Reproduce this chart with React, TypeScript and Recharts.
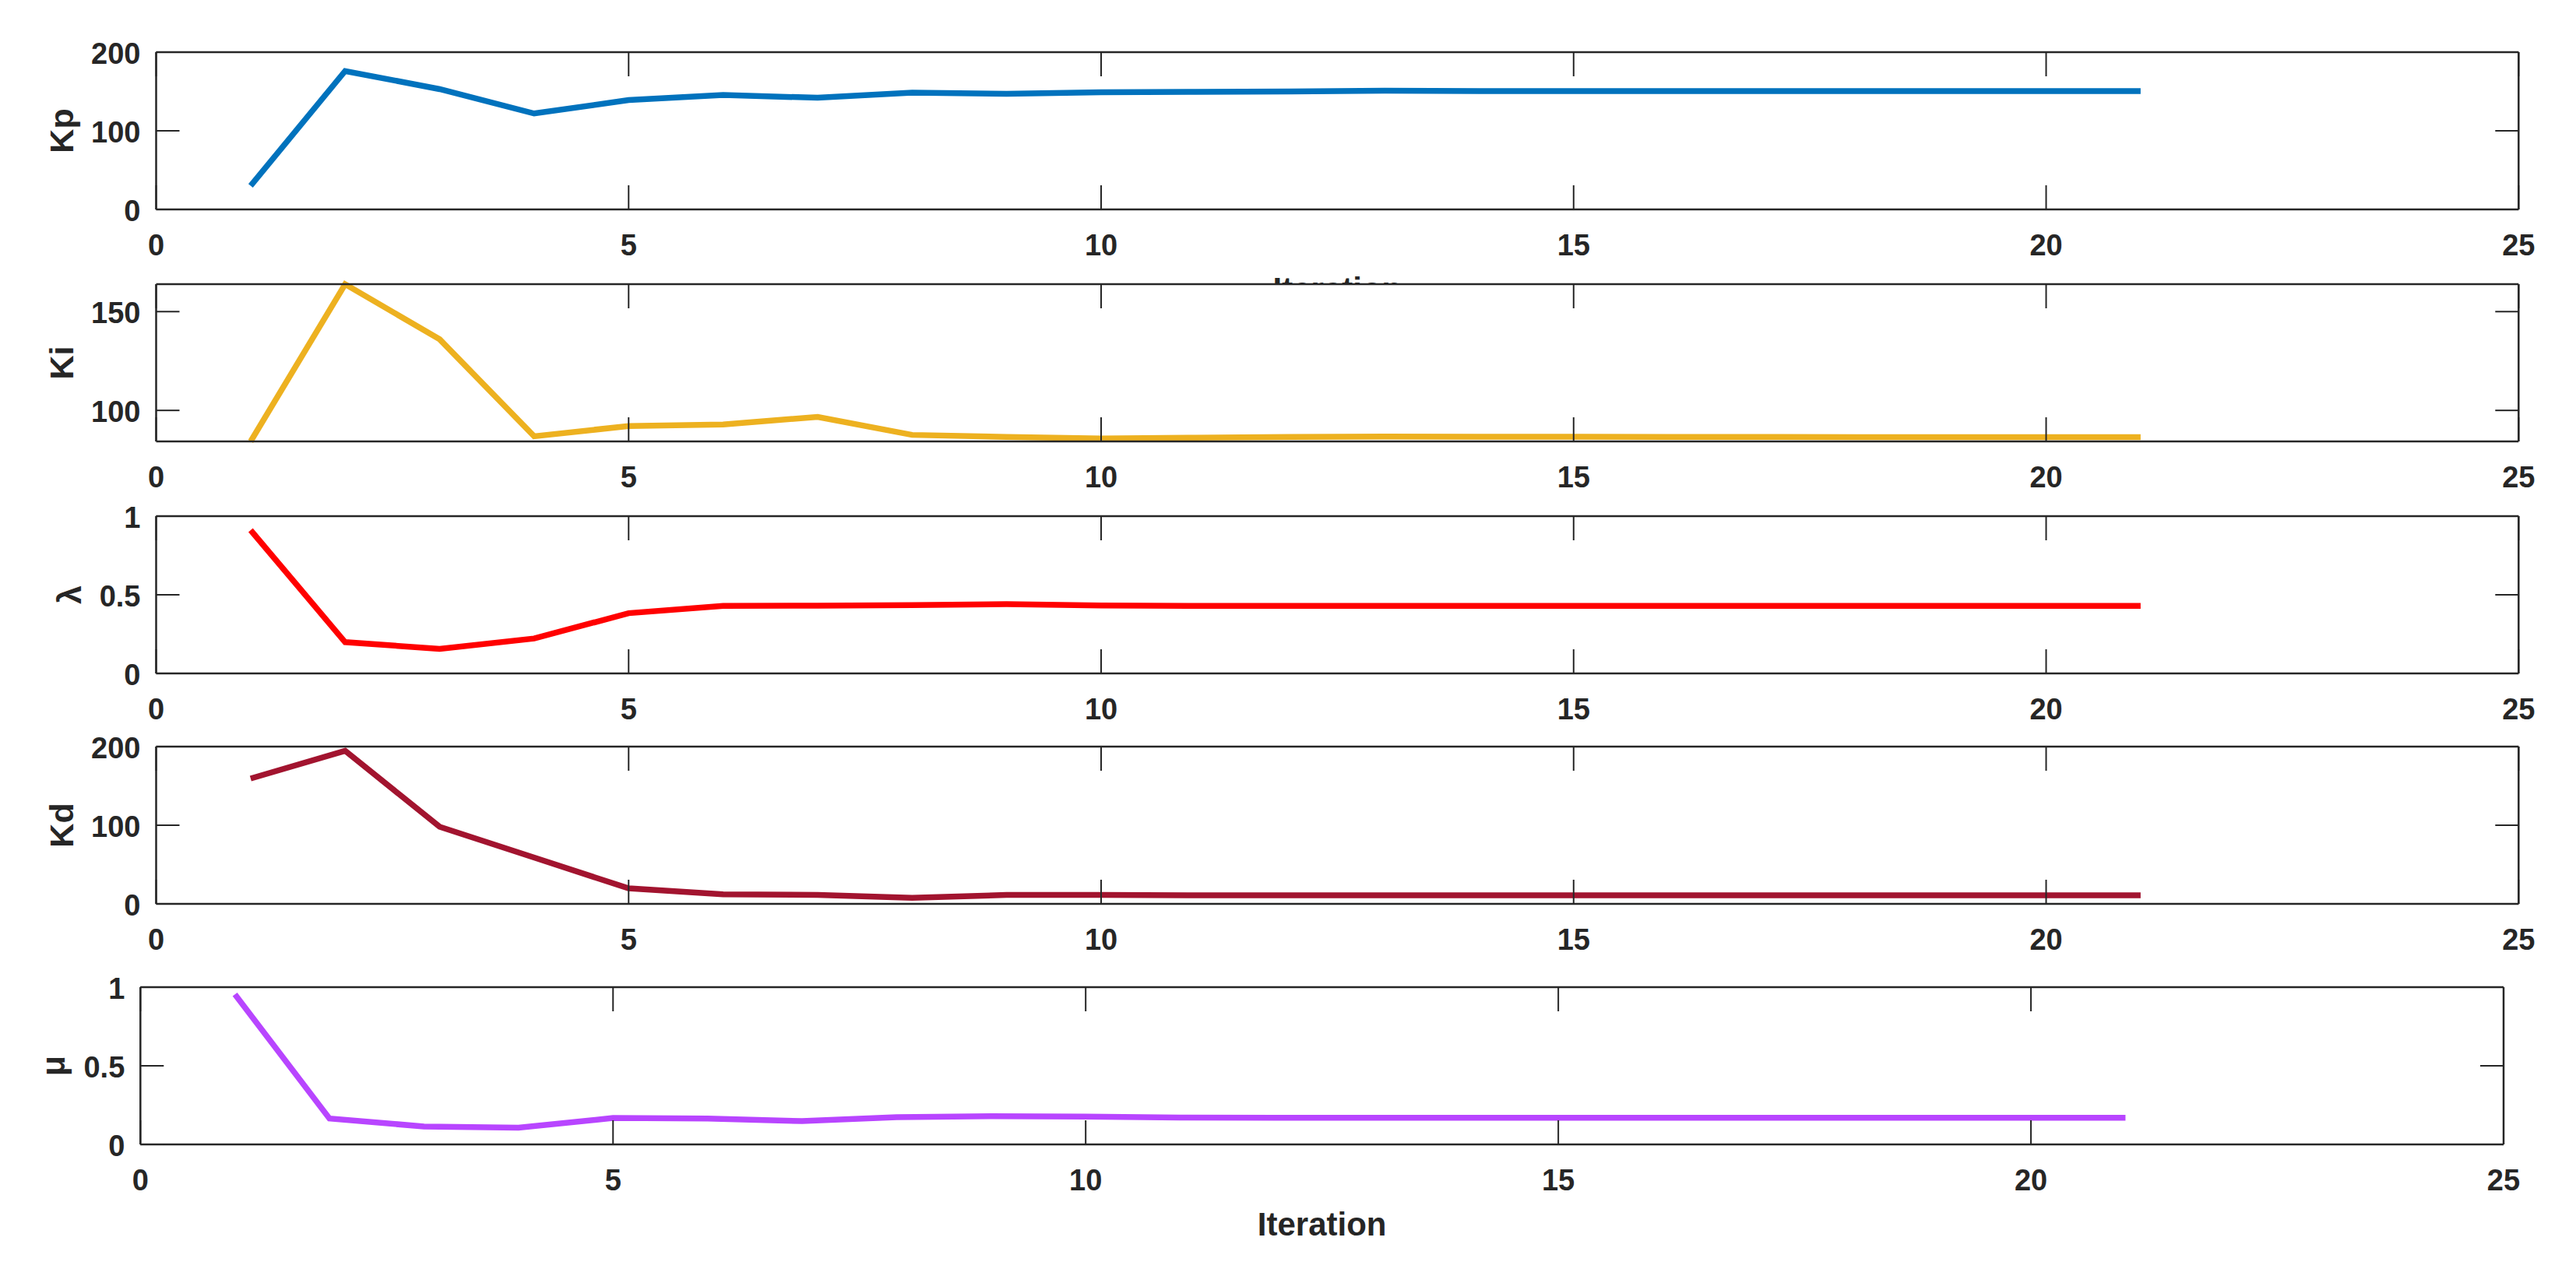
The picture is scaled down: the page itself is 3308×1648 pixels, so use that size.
import { LineChart, Line, XAxis, YAxis, CartesianGrid } from 'recharts';

// iteration index (x)
const iterations = [1, 2, 3, 4, 5, 6, 7, 8, 9, 10, 11, 12, 13, 14, 15, 16, 17, 18, 19, 20, 21];

// tuned gains per iteration
const kpValues = [30, 176, 153, 122, 139, 145.5, 142, 148.5, 147, 149, 149.5, 150, 151, 150.5, 150.5, 150.5, 150.5, 150.5, 150.5, 150.5, 150.5];
const kiValues = [84.3, 163.9, 136, 86.9, 92.1, 92.9, 96.7, 87.6, 86.6, 85.8, 86.2, 86.6, 86.8, 86.7, 86.7, 86.6, 86.6, 86.5, 86.5, 86.5, 86.5];
const lambdaValues = [0.911, 0.199, 0.156, 0.222, 0.383, 0.429, 0.431, 0.435, 0.44, 0.432, 0.429, 0.43, 0.43, 0.43, 0.43, 0.43, 0.43, 0.43, 0.43, 0.43, 0.43];
const kdValues = [159.4, 194.7, 98, 58.9, 19.7, 12.2, 11.4, 7.6, 11.4, 11.4, 10.8, 10.8, 11, 11, 11, 11, 11, 11, 11, 11, 11];
const muValues = [0.954, 0.165, 0.114, 0.106, 0.168, 0.165, 0.148, 0.173, 0.18, 0.177, 0.171, 0.17, 0.17, 0.17, 0.17, 0.17, 0.17, 0.17, 0.17, 0.17, 0.17];

const xTicks = [0, 5, 10, 15, 20, 25];
const kpTicks = [0, 100, 200];
const kiTicks = [100, 150];
const lambdaTicks = [0, 0.5, 1];
const kdTicks = [0, 100, 200];
const muTicks = [0, 0.5, 1];

const AXIS_COLOR = '#262626';
const FONT = '"Liberation Sans", Arial, Helvetica, sans-serif';
const PAGE_W = 3308;
const PAGE_H = 1648;
const PLOT_H = 202;
const PAD_TOP = 70;
const PAD_BOTTOM = 130;

const rows = iterations.map((it, i) => ({
  it,
  kp: kpValues[i],
  ki: kiValues[i],
  lambda: lambdaValues[i],
  kd: kdValues[i],
  mu: muValues[i],
}));

const series = [
  { key: 'kp', name: 'Kp', color: '#0072BD', ticks: kpTicks, domain: [0, 200] },
  { key: 'ki', name: 'Ki', color: '#EDB120', ticks: kiTicks, domain: [Math.min(...kiValues), Math.max(...kiValues)] },
  { key: 'lambda', name: 'λ', color: '#FF0000', ticks: lambdaTicks, domain: [0, 1] },
  { key: 'kd', name: 'Kd', color: '#A2142F', ticks: kdTicks, domain: [0, 200] },
  { key: 'mu', name: 'μ', color: '#B845FF', ticks: muTicks, domain: [0, 1] },
];

// subplot boxes in page pixels
const layout = [
  { top: 67.3, left: 200.5, right: 3234.3, labelGap: 107, xLabel: true },
  { top: 365.4, left: 200.5, right: 3234.3, labelGap: 107, xLabel: false },
  { top: 663.0, left: 200.5, right: 3234.3, labelGap: 97, xLabel: false },
  { top: 959.0, left: 200.5, right: 3234.3, labelGap: 107, xLabel: false },
  { top: 1268.3, left: 180.3, right: 3215.0, labelGap: 97, xLabel: true },
];

type TickProps = { x?: number; y?: number; payload?: { value: number } };

const textStyle = { fontFamily: FONT, fontWeight: 'bold' as const, fill: AXIS_COLOR };

const BottomTick = ({ x = 0, y = 0, payload }: TickProps) => (
  <g>
    <line x1={x} x2={x} y1={y} y2={y - 31} stroke={AXIS_COLOR} strokeWidth={2} />
    <text x={x} y={y + 59} textAnchor="middle" fontSize={38} {...textStyle}>
      {payload?.value}
    </text>
  </g>
);

const TopTick = ({ x = 0, y = 0 }: TickProps) => (
  <line x1={x} x2={x} y1={y} y2={y + 31} stroke={AXIS_COLOR} strokeWidth={2} />
);

const LeftTick = ({ x = 0, y = 0, payload }: TickProps) => (
  <g>
    <line x1={x} x2={x + 30} y1={y} y2={y} stroke={AXIS_COLOR} strokeWidth={2} />
    <text x={x - 20} y={y + 15} textAnchor="end" fontSize={38} {...textStyle}>
      {payload?.value}
    </text>
  </g>
);

const RightTick = ({ x = 0, y = 0 }: TickProps) => (
  <line x1={x} x2={x - 30} y1={y} y2={y} stroke={AXIS_COLOR} strokeWidth={2} />
);

type Box = { x: number; y: number; width: number; height: number };

const YLabel = ({ viewBox, caption, gap }: { viewBox?: Box; caption: string; gap: number }) => {
  if (!viewBox) return null;
  const bx = viewBox.x + viewBox.width - gap;
  const cy = viewBox.y + viewBox.height / 2;
  return (
    <text x={bx} y={cy} transform={`rotate(-90 ${bx} ${cy})`} textAnchor="middle" fontSize={43} {...textStyle}>
      {caption}
    </text>
  );
};

const XLabel = ({ viewBox, caption }: { viewBox?: Box; caption: string }) => {
  if (!viewBox) return null;
  return (
    <text x={viewBox.x + viewBox.width / 2} y={viewBox.y + 117} textAnchor="middle" fontSize={42} {...textStyle}>
      {caption}
    </text>
  );
};

const Panel = ({ idx }: { idx: number }) => {
  const s = series[idx];
  const box = layout[idx];
  const height = PAD_TOP + PLOT_H + PAD_BOTTOM;
  const leftAxisW = 150;
  const rightAxisW = 10;
  const topAxisH = 10;
  return (
    <div style={{ position: 'absolute', left: 0, top: box.top - PAD_TOP, width: PAGE_W, height }}>
      <LineChart
        width={PAGE_W}
        height={height}
        data={rows}
        margin={{
          top: PAD_TOP - topAxisH,
          bottom: 0,
          left: box.left - leftAxisW,
          right: PAGE_W - box.right - rightAxisW,
        }}
      >
        <CartesianGrid horizontal={false} vertical={false} fill="#ffffff" />
        <XAxis
          dataKey="it"
          type="number"
          domain={[0, 25]}
          ticks={xTicks}
          interval={0}
          height={PAD_BOTTOM}
          tickSize={0}
          tickMargin={0}
          tickLine={false}
          tick={<BottomTick />}
          axisLine={{ stroke: AXIS_COLOR, strokeWidth: 2.5 }}
          label={box.xLabel ? <XLabel caption="Iteration" /> : undefined}
        />
        <XAxis
          xAxisId="top"
          dataKey="it"
          orientation="top"
          type="number"
          domain={[0, 25]}
          ticks={xTicks}
          interval={0}
          height={topAxisH}
          tickSize={0}
          tickMargin={0}
          tickLine={false}
          tick={<TopTick />}
          axisLine={{ stroke: AXIS_COLOR, strokeWidth: 2.5 }}
        />
        <YAxis
          type="number"
          domain={s.domain}
          ticks={s.ticks}
          interval={0}
          width={leftAxisW}
          tickSize={0}
          tickMargin={0}
          tickLine={false}
          tick={<LeftTick />}
          axisLine={{ stroke: AXIS_COLOR, strokeWidth: 2.5 }}
          label={<YLabel caption={s.name} gap={box.labelGap} />}
        />
        <YAxis
          yAxisId="right"
          dataKey={s.key}
          orientation="right"
          type="number"
          domain={s.domain}
          ticks={s.ticks}
          interval={0}
          width={rightAxisW}
          tickSize={0}
          tickMargin={0}
          tickLine={false}
          tick={<RightTick />}
          axisLine={{ stroke: AXIS_COLOR, strokeWidth: 2.5 }}
        />
        <Line
          type="linear"
          dataKey={s.key}
          stroke={s.color}
          strokeWidth={7.5}
          dot={false}
          activeDot={false}
          isAnimationActive={false}
        />
      </LineChart>
    </div>
  );
};

export default function App() {
  return (
    <div
      style={{
        position: 'absolute',
        left: 0,
        top: 0,
        width: PAGE_W,
        height: PAGE_H,
        background: '#ffffff',
        overflow: 'hidden',
      }}
    >
      {series.map((s, i) => (
        <Panel key={s.key} idx={i} />
      ))}
    </div>
  );
}
